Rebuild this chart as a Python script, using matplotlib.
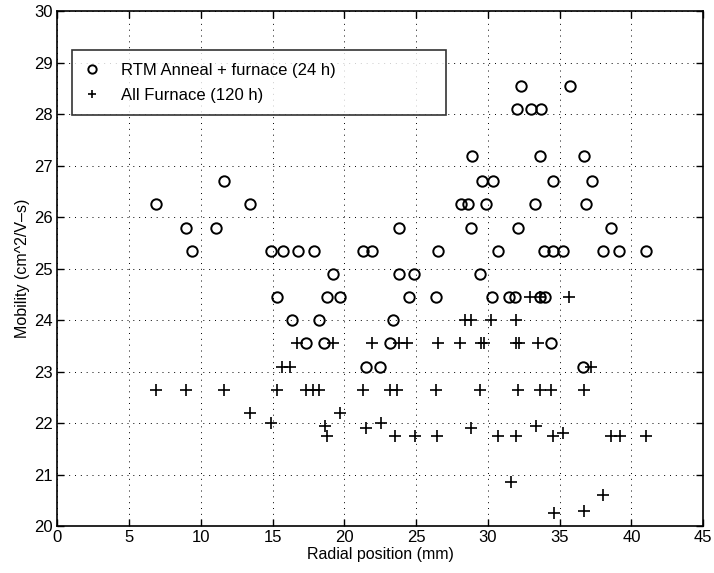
import matplotlib
matplotlib.use("Agg")
import matplotlib.pyplot as plt

plt.rcParams['font.family'] = ['Liberation Sans', 'DejaVu Sans']

# RTM anneal + furnace (24 h)
rtm_x = [32.3, 35.7,
         32.0, 33.0, 33.7,
         28.9, 33.6, 36.7,
         11.65, 29.6, 30.35, 34.5, 37.25,
         6.9, 13.45, 28.15, 28.6, 29.85, 33.3, 36.85,
         9.0, 11.05, 23.8, 28.8, 32.1, 38.6,
         9.4, 14.9, 15.75, 16.8, 17.9, 21.3, 21.9, 26.5, 30.7, 33.9,
         34.55, 35.2, 38.0, 39.15, 41.0,
         19.2, 23.8, 24.85, 29.45,
         15.3, 18.8, 19.7, 24.5, 26.4, 30.3, 31.5, 31.9, 33.6, 34.0,
         16.35, 18.25, 23.4,
         17.35, 18.6, 23.15, 34.4,
         21.5, 22.5, 36.65]
rtm_y = [28.55, 28.55,
         28.1, 28.1, 28.1,
         27.2, 27.2, 27.2,
         26.7, 26.7, 26.7, 26.7, 26.7,
         26.25, 26.25, 26.25, 26.25, 26.25, 26.25, 26.25,
         25.8, 25.8, 25.8, 25.8, 25.8, 25.8,
         25.35, 25.35, 25.35, 25.35, 25.35, 25.35, 25.35, 25.35, 25.35, 25.35,
         25.35, 25.35, 25.35, 25.35, 25.35,
         24.9, 24.9, 24.9, 24.9,
         24.45, 24.45, 24.45, 24.45, 24.45, 24.45, 24.45, 24.45, 24.45, 24.45,
         24.0, 24.0, 24.0,
         23.55, 23.55, 23.55, 23.55,
         23.1, 23.1, 23.1]

# all furnace (120 h)
furnace_x = [32.9, 33.6, 35.65,
             28.4, 28.85, 30.25, 31.95,
             16.7, 19.2, 21.9, 23.8, 24.4, 26.5, 28.05, 29.55, 29.75, 31.95,
             32.15, 33.5,
             15.65, 16.25, 37.2,
             6.9, 9.0, 11.65, 15.3, 17.35, 17.8, 18.25, 21.3, 23.2, 23.7,
             26.4, 29.45, 32.1, 33.65, 34.4, 36.7,
             13.45, 19.7,
             14.9, 18.65, 18.8, 21.5, 22.55, 23.5, 24.9, 26.45, 28.85, 30.7,
             31.95, 33.35, 34.55, 35.2, 38.6, 39.2, 41.0,
             31.6, 38.0, 34.6, 36.7]
furnace_y = [24.45, 24.45, 24.45,
             24.0, 24.0, 24.0, 24.0,
             23.55, 23.55, 23.55, 23.55, 23.55, 23.55, 23.55, 23.55, 23.55, 23.55,
             23.55, 23.55,
             23.1, 23.1, 23.1,
             22.65, 22.65, 22.65, 22.65, 22.65, 22.65, 22.65, 22.65, 22.65, 22.65,
             22.65, 22.65, 22.65, 22.65, 22.65, 22.65,
             22.2, 22.2,
             22.0, 21.95, 21.75, 21.9, 22.0, 21.75, 21.75, 21.75, 21.9, 21.75,
             21.75, 21.95, 21.75, 21.8, 21.75, 21.75, 21.75,
             20.85, 20.6, 20.25, 20.3]

x_ticks = [0, 5, 10, 15, 20, 25, 30, 35, 40, 45]
y_ticks = [20, 21, 22, 23, 24, 25, 26, 27, 28, 29, 30]

fig = plt.figure(figsize=(7.14, 5.73), dpi=100)
ax = fig.add_axes([0.080, 0.082, 0.905, 0.898])

ax.plot(rtm_x, rtm_y, 'o', ms=7.5, mfc='none', mec='black', mew=1.4,
        label='RTM Anneal + furnace (24 h)')
ax.plot(furnace_x, furnace_y, '+', ms=8.5, color='black', mew=1.2,
        label='All Furnace (120 h)')

ax.set_xlim(0, 45)
ax.set_ylim(20, 30)
ax.set_xticks(x_ticks)
ax.set_yticks(y_ticks)
ax.tick_params(direction='in', length=5, width=1, top=True, right=True,
               labelsize=12, colors='black', pad=3)
for s in ax.spines.values():
    s.set_linewidth(1.2)

ax.grid(True, color='black', linestyle=(0, (1, 5)), linewidth=0.7)

ax.set_xlabel('Radial position (mm)', fontsize=11.5, labelpad=1)
ax.set_ylabel('Mobility (cm^2/V\u2013s)', fontsize=11.5, labelpad=3)

leg = ax.legend(loc='upper left', bbox_to_anchor=(0.023, 0.925, 0.579, 0.0),
                mode='expand', fontsize=12, handlelength=0.9,
                handletextpad=1.3, borderpad=0.75, labelspacing=0.6,
                frameon=True, fancybox=False, edgecolor='black',
                borderaxespad=0)
leg.get_frame().set_linewidth(1.2)
for h in leg.legend_handles:
    h.set_markersize(6)

fig.savefig('out.png', dpi=100)
